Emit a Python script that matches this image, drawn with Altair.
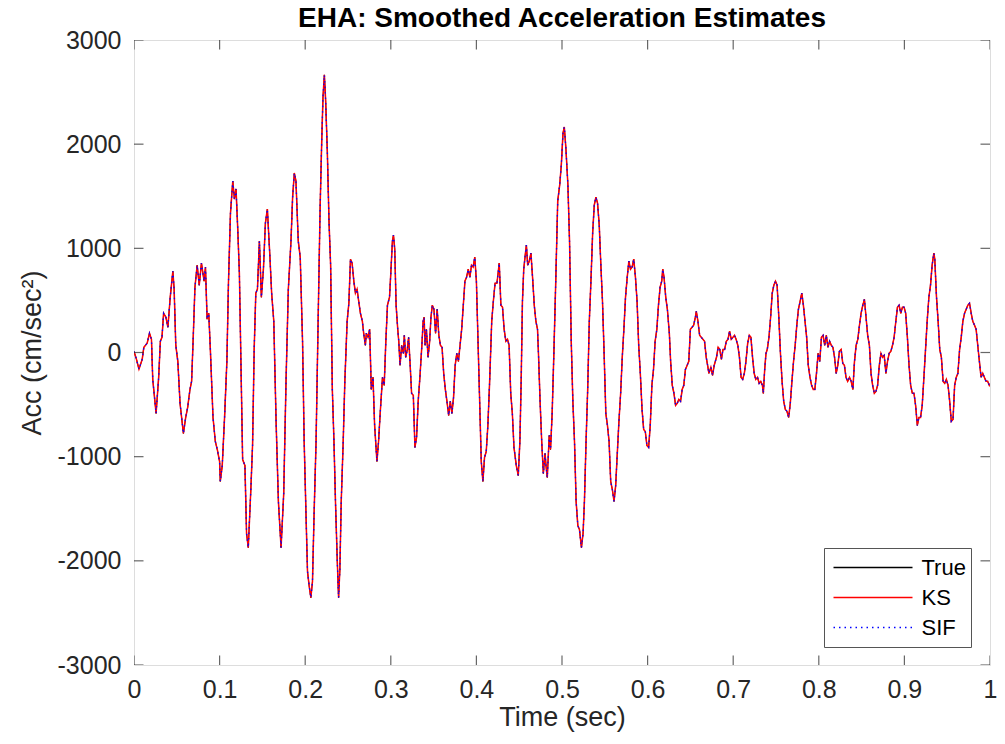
import altair as alt
import pandas as pd

# ---- data ----
t_sec = [
    0.0000, 0.0027, 0.0058, 0.0096, 0.0115, 0.0154, 0.0181, 0.0204, 0.0219, 0.0258,
    0.0288, 0.0308, 0.0327, 0.0346, 0.0373, 0.0396, 0.0423, 0.0454, 0.0469, 0.0488,
    0.0512, 0.0538, 0.0577, 0.0604, 0.0627, 0.0654, 0.0673, 0.0692, 0.0712, 0.0738,
    0.0762, 0.0788, 0.0819, 0.0835, 0.0854, 0.0873, 0.0892, 0.0923, 0.0950, 0.0973,
    0.1000, 0.1008, 0.1031, 0.1058, 0.1085, 0.1104, 0.1127, 0.1154, 0.1173, 0.1192,
    0.1212, 0.1231, 0.1269, 0.1296, 0.1315, 0.1335, 0.1365, 0.1385, 0.1404, 0.1423,
    0.1442, 0.1465, 0.1488, 0.1512, 0.1535, 0.1558, 0.1588, 0.1608,
    0.1633, 0.1660, 0.1687, 0.1718, 0.1749, 0.1776, 0.1803, 0.1834, 0.1853, 0.1873,
    0.1892, 0.1919, 0.1942, 0.1969, 0.1988, 0.2008, 0.2027, 0.2046, 0.2066, 0.2085,
    0.2104, 0.2127, 0.2151, 0.2174, 0.2193, 0.2208, 0.2224, 0.2239, 0.2259, 0.2278,
    0.2297, 0.2317, 0.2336, 0.2355, 0.2375, 0.2390, 0.2405, 0.2421, 0.2444, 0.2463,
    0.2490, 0.2510, 0.2529, 0.2548, 0.2568, 0.2587, 0.2606, 0.2625, 0.2645, 0.2668,
    0.2683, 0.2703, 0.2714, 0.2734, 0.2753, 0.2772, 0.2792, 0.2811, 0.2838, 0.2857,
    0.2876, 0.2903, 0.2923, 0.2942, 0.2961, 0.2985, 0.3000, 0.3019, 0.3031, 0.3046,
    0.3062, 0.3081, 0.3093, 0.3108, 0.3127, 0.3147, 0.3158, 0.3174, 0.3193, 0.3208,
    0.3224, 0.3243, 0.3263, 0.3282, 0.3301, 0.3320,
    0.3340, 0.3363, 0.3378, 0.3389, 0.3401, 0.3416, 0.3435, 0.3454, 0.3469, 0.3485,
    0.3504, 0.3523, 0.3542, 0.3561, 0.3580, 0.3599, 0.3618, 0.3637, 0.3656, 0.3676,
    0.3695, 0.3714, 0.3733, 0.3752, 0.3771, 0.3790, 0.3809, 0.3828, 0.3847, 0.3866,
    0.3885, 0.3905, 0.3924, 0.3943, 0.3962, 0.3981, 0.4000, 0.4019, 0.4038, 0.4057,
    0.4076, 0.4095, 0.4115, 0.4134, 0.4153, 0.4179, 0.4198, 0.4218, 0.4240, 0.4267,
    0.4286, 0.4305, 0.4324, 0.4344, 0.4363, 0.4382, 0.4401, 0.4420, 0.4439, 0.4466,
    0.4489, 0.4508, 0.4523, 0.4538, 0.4553, 0.4573, 0.4584, 0.4599, 0.4618, 0.4637,
    0.4656, 0.4676, 0.4695, 0.4714, 0.4725, 0.4744, 0.4763, 0.4782, 0.4802, 0.4813,
    0.4828, 0.4851, 0.4866, 0.4885, 0.4905, 0.4927, 0.4950, 0.4973, 0.4992,
    0.5012, 0.5027, 0.5046, 0.5069, 0.5088, 0.5108, 0.5127, 0.5146, 0.5165, 0.5185,
    0.5204, 0.5227, 0.5246, 0.5262, 0.5281, 0.5300, 0.5319, 0.5338, 0.5358, 0.5377,
    0.5396, 0.5415, 0.5435, 0.5454, 0.5473, 0.5492, 0.5512, 0.5531, 0.5550, 0.5569,
    0.5588, 0.5608, 0.5627, 0.5646, 0.5665, 0.5685, 0.5704, 0.5723, 0.5742, 0.5762,
    0.5781, 0.5800, 0.5819, 0.5838, 0.5858, 0.5877, 0.5896, 0.5915, 0.5935, 0.5954,
    0.5973, 0.5992, 0.6012, 0.6031, 0.6050, 0.6069, 0.6088, 0.6108, 0.6127, 0.6146,
    0.6165, 0.6177, 0.6192, 0.6212, 0.6231, 0.6254, 0.6269, 0.6288, 0.6308, 0.6327,
    0.6346, 0.6365, 0.6385, 0.6404, 0.6423, 0.6442, 0.6462, 0.6481, 0.6500, 0.6519,
    0.6538, 0.6558, 0.6569, 0.6588, 0.6608, 0.6627, 0.6646, 0.6665, 0.6685,
    0.6701, 0.6716, 0.6739, 0.6759, 0.6778, 0.6805, 0.6824, 0.6843, 0.6862, 0.6881,
    0.6900, 0.6920, 0.6939, 0.6958, 0.6977, 0.6996, 0.7015, 0.7034, 0.7054, 0.7073,
    0.7092, 0.7111, 0.7130, 0.7149, 0.7169, 0.7188, 0.7207, 0.7226, 0.7245, 0.7264,
    0.7284, 0.7303, 0.7322, 0.7341, 0.7352, 0.7368, 0.7383, 0.7398, 0.7418, 0.7437,
    0.7456, 0.7475, 0.7494, 0.7513, 0.7533, 0.7552, 0.7571, 0.7590, 0.7609, 0.7628,
    0.7648, 0.7667, 0.7686, 0.7705, 0.7724, 0.7743, 0.7762, 0.7782, 0.7801, 0.7820,
    0.7839, 0.7858, 0.7877, 0.7897, 0.7916, 0.7935, 0.7954, 0.7973, 0.7992, 0.8011,
    0.8031, 0.8050, 0.8069, 0.8088, 0.8107, 0.8126, 0.8146, 0.8165, 0.8184, 0.8203,
    0.8222, 0.8241, 0.8261, 0.8280, 0.8299, 0.8318, 0.8337,
    0.8359, 0.8378, 0.8398, 0.8417, 0.8436, 0.8456, 0.8475, 0.8494, 0.8514, 0.8533,
    0.8552, 0.8571, 0.8591, 0.8610, 0.8629, 0.8649, 0.8668, 0.8687, 0.8707, 0.8726,
    0.8745, 0.8764, 0.8784, 0.8803, 0.8822, 0.8842, 0.8861, 0.8880, 0.8900, 0.8919,
    0.8938, 0.8958, 0.8977, 0.8996, 0.9015, 0.9035, 0.9054, 0.9073, 0.9093, 0.9112,
    0.9131, 0.9151, 0.9170, 0.9189, 0.9208, 0.9228, 0.9247, 0.9266, 0.9286, 0.9305,
    0.9324, 0.9344, 0.9355, 0.9375, 0.9394, 0.9413, 0.9432, 0.9452, 0.9471, 0.9490,
    0.9510, 0.9529, 0.9548, 0.9568, 0.9587, 0.9606, 0.9625, 0.9645, 0.9664, 0.9683,
    0.9703, 0.9722, 0.9741, 0.9761, 0.9780, 0.9799, 0.9819, 0.9838, 0.9857, 0.9876,
    0.9896, 0.9915, 0.9934, 0.9954, 0.9973, 0.9992, 1.0000,
]

acc_true = [
    10, -60, -160, -65, 50, 90, 185, 127, -258, -585,
    -240, 108, 146, 377, 338, 242, 530, 780, 608, 70,
    -85, -490, -777, -623, -527, -354, -277, 146, 627, 838,
    646, 858, 685, 820, 320, 377, 30, -623, -854, -931,
    -1046, -1238, -1085, -623, -85, 685, 1338, 1646, 1473, 1570,
    1185, 762, -1027, -1085, -1738, -1873, -1315, -892, 30, 570,
    608, 1070, 530, 800, 1242, 1377, 915, 570,
    300, -662, -1430, -1873, -1354, -277, 608, 1070, 1492, 1723,
    1646, 1070, 915, 108, -854, -1508, -2104, -2238, -2354, -2200,
    -1546, -854, 300, 1377, 2030, 2454, 2665, 2415, 1915, 1262,
    838, -354, -854, -1469, -2008, -2354, -2085, -1430, -854, -277,
    300, 473, 896, 858, 685, 570, 608, 492, 377, 300,
    185, 69, 185, 146, 223, -354, -238, -700, -1046, -854,
    -585, -238, -315, 108, 454, 531, 762, 1070, 1127, 992,
    454, 223, 108, -123, 69, -8, 165, -46, 30, 146,
    -85, -392, -411, -911, -815, -469,
    -238, 69, 300, 338, 69, 223, -46, 108, 338, 454,
    415, 185, 415, 165, 69, 50, -200, -354, -469, -604,
    -469, -585, -431, -123, -8, -85, 69, 223, 454, 685,
    723, 800, 723, 838, 820, 915, 685, 108, -469, -1046,
    -1238, -1008, -950, -700, -315, 300, 492, 665, 665, 858,
    454, 435, 223, 108, 127, 69, -392, -585, -911, -1085,
    -1181, -854, -277, 492, 800, 954, 1031, 838, 877, 954,
    723, 454, 300, 223, -8, -469, -854, -1162, -969, -1085,
    -1200, -796, -931, -585, -8, 685, 1454, 1608, 1800,
    2108, 2165, 1954, 1608, 1069, 108, -469, -854, -1430, -1662,
    -1700, -1873, -1738, -1430, -854, -354, 300, 685, 1146, 1415,
    1492, 1435, 1223, 838, 492, -8, -585, -700, -854, -1238,
    -1315, -1430, -1277, -969, -662, -392, -46, 223, 531, 723,
    877, 800, 820, 896, 723, 492, 69, -200, -546, -738,
    -758, -892, -911, -700, -315, -162, 108, 223, 454, 627,
    685, 800, 723, 530, 415, 185, -85, -315, -392, -508,
    -488, -450, -469, -354, -315, -162, -123, -85, 223, 242,
    262, 338, 396, 300, 165, 146, 127, 108, -46,
    -123, -200, -142, -219, -123, -46, 50, 30, -65, 30,
    30, 108, 127, 204, 127, 146, 165, 127, 69, -46,
    -238, -258, -200, -85, 88, 165, 146, -46, -200, -258,
    -238, -296, -277, -315, -392, -162, -8, 30, 146, 338,
    570, 646, 685, 646, 338, -8, -277, -469, -546, -565,
    -623, -488, -277, -85, 69, 262, 415, 492, 570, 454,
    300, 146, -123, -238, -315, -354, -354, -200, -8, -85,
    146, 165, 69, 165, 50, 108, 69, 50, -46, -200,
    -123, 12, 30, -104, -123, -238, -277,
    -238, -277, -354, -85, 69, 127, 262, 377, 454, 511,
    338, 165, 69, -200, -315, -392, -373, -315, -123, -8,
    -46, -27, -200, -85, -8, 12, 69, 146, 300, 435,
    454, 377, 435, 435, 377, 146, -123, -315, -392, -392,
    -508, -700, -623, -623, -508, -238, 30, 300, 531, 646,
    838, 954, 896, 531, 300, 30, -46, -277, -296, -258,
    -315, -469, -662, -642, -315, -238, -200, 30, 146, 300,
    377, 415, 454, 473, 377, 300, 262, 223, 69, -85,
    -238, -200, -238, -277, -277, -315, -300,
]

# KS and SIF estimates are indistinguishable from the true signal in the picture
acc_ks = list(acc_true)
acc_sif = list(acc_true)

series_names = ["True", "KS", "SIF"]
series_colors = ["#000000", "#ff0000", "#0000ff"]
series_dashes = [[1, 0], [1, 0], [1.5, 4]]

x_ticks = [0, 0.1, 0.2, 0.3, 0.4, 0.5, 0.6, 0.7, 0.8, 0.9, 1.0]
y_ticks = [-3000, -2000, -1000, 0, 1000, 2000, 3000]

# ---- build tables ----
frames = []
for name, vals in zip(series_names, [acc_true, acc_ks, acc_sif]):
    frames.append(pd.DataFrame({"t": t_sec, "acc": vals, "series": name}))
df = pd.concat(frames, ignore_index=True)
df_xt = pd.DataFrame({"xt": x_ticks})
df_yt = pd.DataFrame({"yt": y_ticks})

FONT = "Liberation Sans"
AX = "#262626"

x_scale = alt.Scale(domain=[0, 1], nice=False, zero=False)
y_scale = alt.Scale(domain=[-3000, 3000], nice=False, zero=False)

legend_spec = alt.Legend(
    title=None,
    orient="none",
    legendX=690,
    legendY=508,
    fillColor="white",
    strokeColor="#555555",
    padding=4.5,
    clipHeight=30,
    symbolSize=6241,
    symbolStrokeWidth=1.3,
    symbolOffset=4,
    labelFontSize=22,
    labelFont=FONT,
    labelColor="#000000",
    labelOffset=8,
    labelExpr="datum.label + ' '",
    rowPadding=0,
)
color_enc = alt.Color(
    "series:N",
    scale=alt.Scale(domain=series_names, range=series_colors),
    legend=legend_spec,
)
dash_enc = alt.StrokeDash(
    "series:N",
    scale=alt.Scale(domain=series_names, range=series_dashes),
    legend=legend_spec,
)

x_axis = alt.Axis(
    values=x_ticks, format="~g", grid=False, domain=False, ticks=False, tickSize=0,
    labelFontSize=25, labelFont=FONT, labelColor=AX, labelPadding=12,
    title="Time (sec)", titleFontSize=27, titleFont=FONT, titleFontWeight="normal",
    titleColor=AX, titlePadding=2, labelFlush=False,
)
y_axis = alt.Axis(
    values=y_ticks, labelExpr="'' + datum.value", grid=False, domain=False,
    ticks=False, tickSize=0,
    labelFontSize=25, labelFont=FONT, labelColor=AX, labelPadding=13,
    title="Acc (cm/sec²)", titleFontSize=27, titleFont=FONT, titleFontWeight="normal",
    titleColor=AX, titlePadding=11, labelFlush=False,
)

layers = []
widths = {"True": 1.0, "KS": 1.5, "SIF": 1.3}
for name in series_names:
    layers.append(
        alt.Chart(df)
        .transform_filter(alt.datum.series == name)
        .mark_line(strokeWidth=widths[name], clip=True)
        .encode(
            x=alt.X("t:Q", scale=x_scale, axis=x_axis),
            y=alt.Y("acc:Q", scale=y_scale, axis=y_axis),
            color=color_enc,
            strokeDash=dash_enc,
        )
    )

# inward ticks on all four sides (clipped to the plot box)
tick_layers = []
for xd in [0, 1]:
    tick_layers.append(
        alt.Chart(df_yt)
        .mark_tick(orient="horizontal", size=19, thickness=1.2, color=AX, clip=True)
        .encode(y=alt.Y("yt:Q", scale=y_scale, axis=y_axis),
                x=alt.XDatum(xd, scale=x_scale))
    )
for yd in [-3000, 3000]:
    tick_layers.append(
        alt.Chart(df_xt)
        .mark_tick(orient="vertical", size=19, thickness=1.2, color=AX, clip=True)
        .encode(x=alt.X("xt:Q", scale=x_scale, axis=x_axis),
                y=alt.YDatum(yd, scale=y_scale))
    )

chart = (
    alt.layer(*layers, *tick_layers)
    .properties(
        width=856,
        height=625,
        title=alt.TitleParams(
            "EHA: Smoothed Acceleration Estimates",
            fontSize=28, font=FONT, fontWeight="bold", color="#000000",
            anchor="middle", offset=0, dy=5, frame="group",
        ),
        autosize=alt.AutoSizeParams(type="none"),
        padding={"left": 126, "top": 32, "right": 7, "bottom": 67},
    )
    .configure_view(stroke=AX, strokeWidth=1.2)
    .configure(background="white")
)

chart.save("out.html", embed_options={"renderer": "svg", "actions": False})
